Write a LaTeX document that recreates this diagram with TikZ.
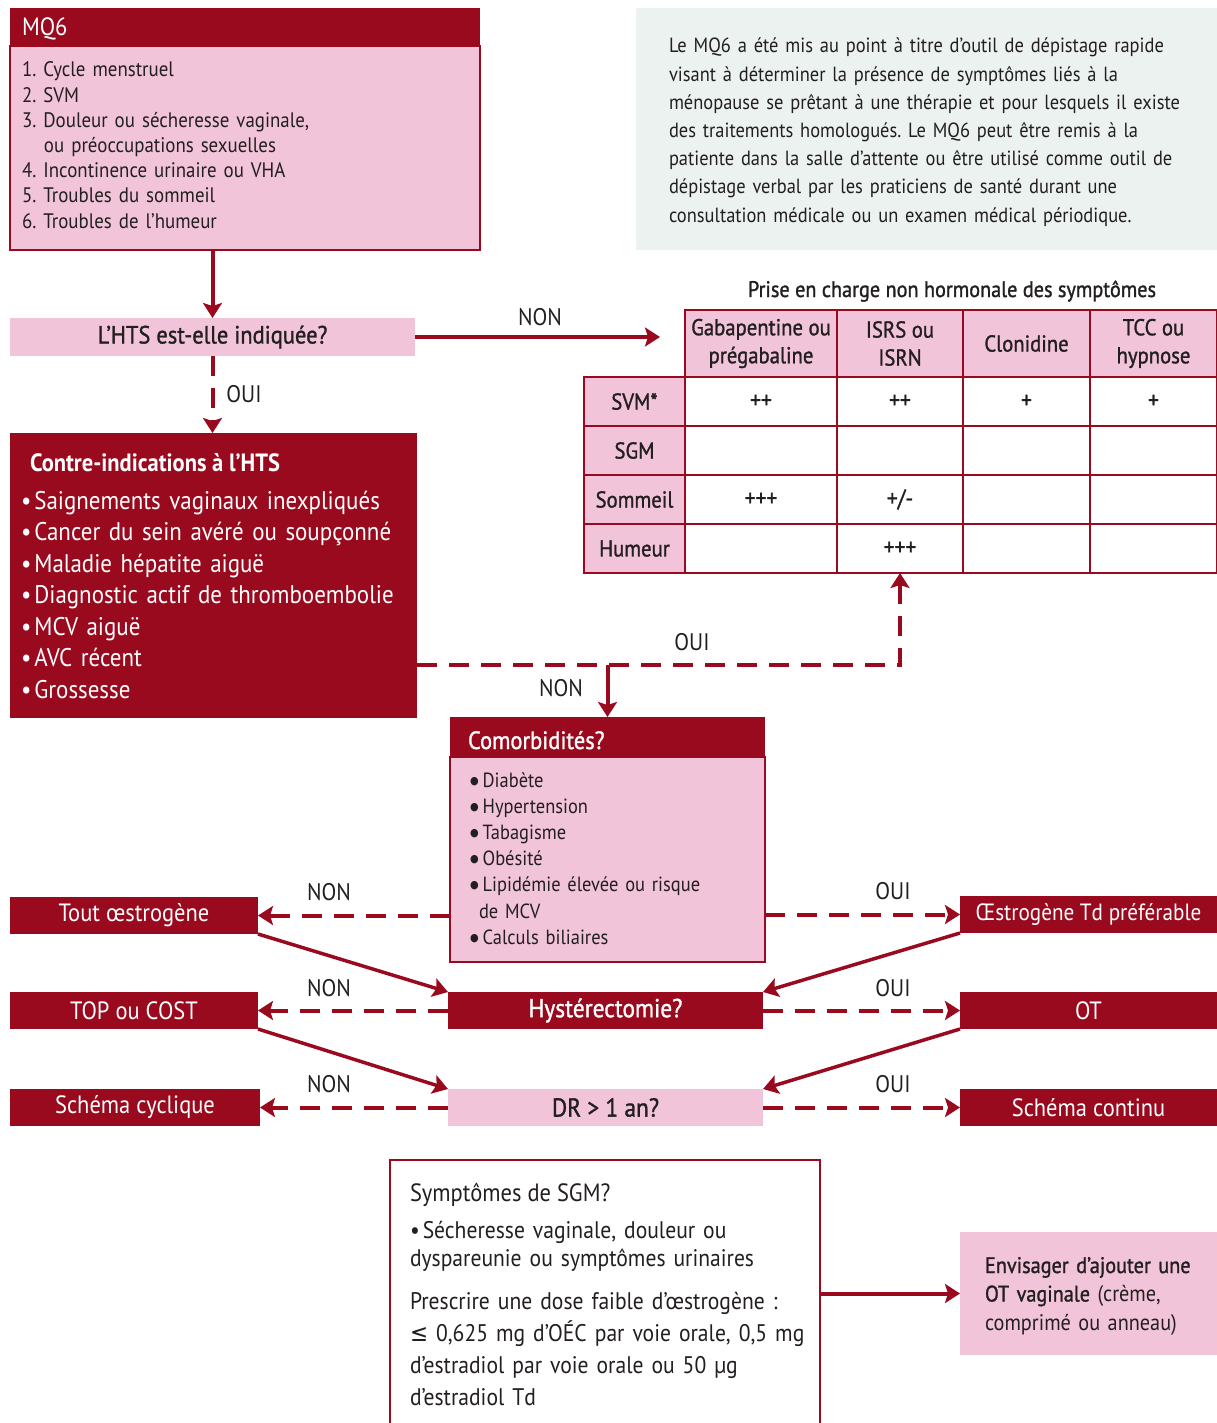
\documentclass[tikz,border=0pt]{standalone}
\usepackage{fontspec}
\setmainfont[FakeStretch=0.9]{PT Sans}
\newfontfamily\medfont[FakeStretch=0.9,FakeBold=1.2]{PT Sans}
\newfontfamily\symfont[FakeStretch=0.9]{DejaVu Sans}
\usetikzlibrary{arrows.meta}
\definecolor{dred}{HTML}{9A0A1E}
\definecolor{pinkc}{HTML}{F1C4D9}
\definecolor{infobg}{HTML}{ECF2F0}
\definecolor{tcol}{HTML}{231F20}
\frenchspacing
\newcommand{\cbul}{\raisebox{3pt}{\fontsize{11}{11}\symfont ●}\hspace{4pt}}
\tikzset{
  box/.style={inner sep=0pt, outer sep=0pt, anchor=north west},
  redbox/.style={box, fill=dred, text=white},
  pinkbox/.style={box, fill=pinkc, draw=dred, line width=2pt},
  txt/.style={inner sep=0pt, outer sep=0pt, anchor=base west, align=left, text=tcol},
  lbl/.style={inner sep=0pt, text=tcol, font=\fontsize{24}{26}\selectfont},
  cell/.style={box, draw=dred, line width=1.5pt, align=center, text=tcol, font=\medfont\fontsize{23}{28}\selectfont},
  dcell/.style={cell, fill=white, minimum height=49pt, font=\medfont\fontsize{24}{24}\selectfont},
  conn/.style={draw=dred, line width=4pt, -{Stealth[length=15pt,width=19pt,inset=3pt]}},
  dconn/.style={conn, dash pattern=on 20pt off 12pt},
  rowbox/.style={redbox, font=\fontsize{25}{26}\selectfont, minimum height=37pt}
}
\begin{document}
\begin{tikzpicture}[x=1pt,y=-1pt]
\clip (0,0) rectangle (1217,1423);
\fill[white] (0,0) rectangle (1217,1423);

% MQ6
\node[pinkbox, minimum width=470pt, minimum height=204pt] (mq6) at (10,46) {};
\node[redbox, minimum width=470pt, minimum height=38pt] (mq6h) at (10,8) {};
\node[txt, text=white, font=\fontsize{25}{26}\selectfont] (mq6title) at (22,36) {MQ6};
\node[txt, text width=440pt, font=\fontsize{21}{25.2}\selectfont] (mq6list) at (22,77)
 {1. Cycle menstruel\\
  2. SVM\\
  3. Douleur ou sécheresse vaginale,\\
  \hspace*{22pt}ou préoccupations sexuelles\\
  4. Incontinence urinaire ou VHA\\
  5. Troubles du sommeil\\
  6. Troubles de l’humeur};

% Info box
\node[box, fill=infobg, minimum width=581pt, minimum height=242pt] (info) at (636,8) {};
\node[txt, text width=600pt, font=\fontsize{20.5}{28.2}\selectfont] (infot) at (669,53)
 {Le MQ6 a été mis au point à titre d’outil de dépistage rapide\\
  visant à déterminer la présence de symptômes liés à la\\
  ménopause se prêtant à une thérapie et pour lesquels il existe\\
  des traitements homologués. Le MQ6 peut être remis à la\\
  patiente dans la salle d’attente ou être utilisé comme outil de\\
  dépistage verbal par les praticiens de santé durant une\\
  consultation médicale ou un examen médical périodique.};

% HTS question
\node[box, fill=pinkc, text=tcol, minimum width=405pt, minimum height=38pt,
      font=\medfont\fontsize{25}{26}\selectfont] (hts) at (10,318) {L’HTS est-elle indiquée?};

% Contre-indications
\node[redbox, minimum width=407pt, minimum height=285pt] (ci) at (10,433) {};
\node[txt, text=white, font=\bfseries\fontsize{25}{26}\selectfont] (cititle) at (30,471) {Contre-indications à l’HTS};
\node[txt, text=white, text width=420pt, font=\fontsize{25.5}{31.5}\selectfont] (cilist) at (21,509)
 {•\hspace{3pt}Saignements vaginaux inexpliqués\\
  •\hspace{3pt}Cancer du sein avéré ou soupçonné\\
  •\hspace{3pt}Maladie hépatite aiguë\\
  •\hspace{3pt}Diagnostic actif de thromboembolie\\
  •\hspace{3pt}MCV aiguë\\
  •\hspace{3pt}AVC récent\\
  •\hspace{3pt}Grossesse};

% Table
\node[txt, anchor=base, font=\medfont\fontsize{22.5}{24}\selectfont] (tbltitle) at (952,297) {Prise en charge non hormonale des symptômes};
\node[cell, fill=pinkc, minimum width=152pt, minimum height=67pt] (h1) at (685,310) {Gabapentine ou\\prégabaline};
\node[cell, fill=pinkc, minimum width=126pt, minimum height=67pt] (h2) at (837,310) {ISRS ou\\ISRN};
\node[cell, fill=pinkc, minimum width=127pt, minimum height=67pt] (h3) at (963,310) {Clonidine};
\node[cell, fill=pinkc, minimum width=127pt, minimum height=67pt] (h4) at (1090,310) {TCC ou\\hypnose};
\foreach \r/\y/\t in {1/377/SVM*, 2/426/SGM, 3/475/Sommeil, 4/524/Humeur}{
  \node[cell, fill=pinkc, minimum width=101pt, minimum height=49pt] (r\r) at (584,\y) {\t};
}
\foreach \r/\y/\a/\b/\c/\d in {1/377/++/++/+/+, 2/426/{}/{}/{}/{}, 3/475/+++/+{/}-/{}/{}, 4/524/{}/+++/{}/{}}{
  \node[dcell, minimum width=152pt] (c\r1) at (685,\y) {\a};
  \node[dcell, minimum width=126pt] (c\r2) at (837,\y) {\b};
  \node[dcell, minimum width=127pt] (c\r3) at (963,\y) {\c};
  \node[dcell, minimum width=127pt] (c\r4) at (1090,\y) {\d};
}

% Comorbidites
\node[pinkbox, minimum width=315pt, minimum height=205pt] (com) at (450,757) {};
\node[redbox, minimum width=315pt, minimum height=40pt] (comh) at (450,717) {};
\node[txt, text=white, font=\medfont\fontsize{25}{26}\selectfont] (comt) at (468,749) {Comorbidités?};
\node[txt, text width=300pt, font=\fontsize{20.5}{26.2}\selectfont] (coml) at (470,787)
 {\cbul Diabète\\
  \cbul Hypertension\\
  \cbul Tabagisme\\
  \cbul Obésité\\
  \cbul Lipidémie élevée ou risque\\
  \hspace*{9pt}de MCV\\
  \cbul Calculs biliaires};

% Rows
\node[rowbox, minimum width=248pt] (tout) at (10,897) {Tout œstrogène};
\node[rowbox, minimum width=257pt, font=\fontsize{23.5}{26}\selectfont] (oestro) at (960,896) {Œstrogène Td préférable};
\node[rowbox, minimum width=248pt] (top) at (10,992) {TOP ou COST};
\node[rowbox, minimum width=315pt, font=\medfont\fontsize{26}{26}\selectfont] (hyst) at (448,992) {Hystérectomie?};
\node[rowbox, minimum width=257pt] (ot) at (960,992) {OT};
\node[rowbox, minimum width=250pt] (cyc) at (10,1089) {Schéma cyclique};
\node[box, fill=pinkc, text=tcol, minimum width=315pt, minimum height=37pt, font=\medfont\fontsize{26}{26}\selectfont] (dr) at (448,1089) {DR > 1 an?};
\node[rowbox, minimum width=257pt] (cont) at (960,1089) {Schéma continu};

% SGM box
\node[box, draw=dred, line width=2.5pt, fill=white, minimum width=430pt, minimum height=290pt] (sgm) at (390,1160) {};
\node[txt, font=\fontsize{25}{28}\selectfont] (sgm1) at (410,1201) {Symptômes de SGM?};
\node[txt, text width=400pt, font=\fontsize{24}{28}\selectfont] (sgm2) at (410,1238)
 {•\hspace{3pt}Sécheresse vaginale, douleur ou\\dyspareunie ou symptômes urinaires};
\node[txt, text width=420pt, font=\fontsize{24}{32}\selectfont] (sgm3) at (410,1309)
 {Prescrire une dose faible d’œstrogène :\\
  {\symfont ≤} 0,625 mg d’OÉC par voie orale, 0,5 mg\\
  d’estradiol par voie orale ou 50 µg\\
  d’estradiol Td};

\node[box, fill=pinkc, minimum width=257pt, minimum height=123pt] (env) at (960,1232) {};
\node[txt, text width=240pt, font=\fontsize{22.5}{28.5}\selectfont] (envt) at (985,1273)
 {{\medfont Envisager d’ajouter une}\\
  {\medfont OT vaginale} (crème,\\
  comprimé ou anneau)};

% Connectors
\draw[conn] (hts.north |- mq6.south) -- (hts.north);
\coordinate (tblin) at (660,337);
\draw[conn] (hts.east) -- (tblin);
\node[lbl] (lnon1) at (540,317) {NON};
\draw[dconn] (hts.south) -- (ci.north -| hts.south);
\node[lbl] (loui1) at (244,394) {OUI};

\coordinate (split) at (comh.north |- 0,665);
\draw[dconn, -] (ci.east |- split) -- (split -| c42.south) -- ([yshift=-18pt]c42.south);
\draw[conn] ([yshift=-26pt]c42.south) -- (c42.south);
\node[lbl] (loui2) at (692,642) {OUI};
\draw[conn] (split) -- (comh.north);
\node[lbl] (lnon2) at (561,688) {NON};

\draw[dconn] (com.west |- tout.east) -- (tout.east);
\draw[dconn] (com.east |- oestro.west) -- (oestro.west);
\node[lbl] (lnon3) at (329,892) {NON};
\node[lbl] (loui3) at (893,891) {OUI};
\draw[dconn] (hyst.west) -- (top.east);
\draw[dconn] (hyst.east) -- (ot.west);
\node[lbl] (lnon4) at (329,988) {NON};
\node[lbl] (loui4) at (893,988) {OUI};
\draw[dconn] (dr.west) -- (cyc.east);
\draw[dconn] (dr.east) -- (cont.west);
\node[lbl] (lnon5) at (329,1084) {NON};
\node[lbl] (loui5) at (893,1084) {OUI};

\draw[conn, line width=3.5pt] (tout.south east) -- (hyst.north west);
\draw[conn, line width=3.5pt] (oestro.south west) -- (hyst.north east);
\draw[conn, line width=3.5pt] (top.south east) -- (dr.north west);
\draw[conn, line width=3.5pt] (ot.south west) -- (dr.north east);

\draw[conn] (sgm.east |- env.west) -- (env.west);
\end{tikzpicture}
\end{document}
